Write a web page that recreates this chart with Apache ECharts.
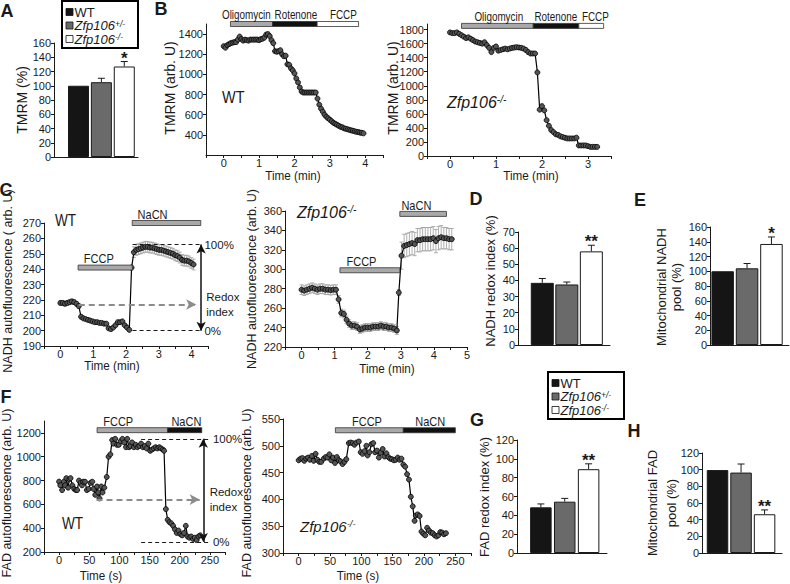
<!DOCTYPE html>
<html>
<head>
<meta charset="utf-8">
<script src="https://cdn.jsdelivr.net/npm/echarts@6/dist/echarts.min.js"></script>
<style>
html, body { margin: 0; padding: 0; background: #fff; }
#view { width: 790px; height: 584px; }
</style>
</head>
<body>
<div id="view"></div>
<script>
// ---------- bar panels (WT, Zfp106+/-, Zfp106-/-) ----------
const groups = ["WT", "Zfp106+/-", "Zfp106-/-"];

const tmrmMean = [100, 105, 127];
const tmrmErr = [0, 5.5, 7];
const tmrmSig = ["", "", "*"];

const nadhRedoxMean = [38.5, 37.5, 58];
const nadhRedoxErr = [2.7, 1.5, 3.8];
const nadhRedoxSig = ["", "", "**"];

const nadhPoolMean = [100, 104, 137];
const nadhPoolErr = [0, 6.5, 9.5];
const nadhPoolSig = ["", "", "*"];

const fadRedoxMean = [48.5, 54.5, 89];
const fadRedoxErr = [3.6, 3.5, 5.7];
const fadRedoxSig = ["", "", "**"];

const fadPoolMean = [99.5, 96.5, 46.5];
const fadPoolErr = [0, 10.3, 5.2];
const fadPoolSig = ["", "", "**"];

// ---------- B: TMRM traces (min, arb. U) ----------
const tmrmWtTime = [0,0.05,0.1,0.15,0.2,0.25,0.3,0.35,0.4,0.45,0.5,0.55,0.6,0.65,0.7,0.75,0.8,0.85,0.9,0.95,
  1,1.05,1.1,1.15,1.2,1.25,1.3,1.35,1.4,1.45,1.5,1.55,1.6,1.65,1.7,1.75,1.8,1.85,1.9,1.95,
  2,2.05,2.1,2.15,2.2,2.25,2.3,2.35,2.4,2.45,2.5,2.55,2.6,2.65,2.7,2.75,2.8,2.85,2.9,2.95,
  3,3.05,3.1,3.15,3.2,3.25,3.3,3.35,3.4,3.45,3.5,3.55,3.6,3.65,3.7,3.75,3.8,3.85,3.9,3.95];
const tmrmWtVal = [1280,1265,1290,1300,1310,1315,1320,1320,1345,1375,1350,1335,1345,1340,1335,1345,1345,1345,1345,1345,
  1340,1350,1355,1365,1395,1400,1380,1340,1310,1230,1225,1230,1240,1200,1180,1185,1100,1095,1060,1040,
  1010,960,920,870,830,820,820,820,820,820,820,820,820,760,700,660,630,600,580,565,
  550,535,520,510,500,490,480,475,465,460,455,450,445,440,435,430,428,422,420,415];

const tmrmKoTime = [0,0.05,0.1,0.15,0.2,0.25,0.3,0.35,0.4,0.45,0.5,0.55,0.6,0.65,0.7,0.75,0.8,0.85,0.9,0.95,
  1,1.05,1.1,1.15,1.2,1.25,1.3,1.35,1.4,1.45,1.5,1.55,1.6,1.65,1.7,1.75,1.8,1.85,1.9,1.95,
  2,2.05,2.1,2.15,2.2,2.25,2.3,2.35,2.4,2.45,2.5,2.55,2.6,2.65,2.7,2.75,2.8,2.85,2.9,2.95,
  3,3.05,3.1,3.15,3.2];
const tmrmKoVal = [1760,1750,1750,1760,1740,1720,1700,1680,1690,1670,1650,1630,1620,1610,1600,1620,1580,1540,1480,1540,
  1560,1500,1510,1520,1530,1520,1530,1540,1545,1550,1545,1540,1530,1510,1480,1460,1460,1460,1190,660,
  710,650,510,430,370,340,310,300,280,270,260,250,250,250,250,260,150,150,150,150,
  140,130,130,130,130];

// ---------- C: NADH traces (min, arb. U) ----------
const nadhWtTime = [0,0.07,0.14,0.21,0.28,0.35,0.42,0.49,0.56,0.63,0.7,0.77,0.84,0.91,0.98,1.05,1.12,1.19,1.26,1.33,
  1.4,1.47,1.54,1.61,1.68,1.75,1.82,1.89,1.96,2.03,2.1,2.17,2.24,2.31,2.38,2.45,2.52,2.59,2.66,2.73,
  2.8,2.87,2.94,3.01,3.08,3.15,3.22,3.29,3.36,3.43,3.5,3.57,3.64,3.71,3.78,3.85,3.92,3.99,4.06];
const nadhWtVal = [218,218,217.5,218,218.5,219,218.5,217.5,216,209,208,207.5,207,206.5,206,205.5,205.5,205,205,204.5,
  204.5,201.5,201,202,203.5,205.5,205.5,206,203.5,202,200.5,241,251,252.5,253,253.5,254,254.5,254.5,254,
  254,253.5,253,252.5,252.5,252,251.5,251,250.5,250,249,248.5,247.5,246,245.5,245.5,245,244,243];
const nadhWtErr = [1.5,1.5,1.5,1.5,1.5,1.5,1.5,1.5,1.5,0.6,0.6,0.6,0.6,0.6,0.6,0.6,0.6,0.6,0.6,0.6,
  0.6,0.6,0.6,0.6,0.6,0.6,0.6,0.6,0.6,0.6,0.6,1.5,3.5,3.5,3.5,3.5,3.5,3.5,3.5,3.5,
  3.5,3.5,3.5,3.5,3.5,3.5,3.5,3.5,3.5,3.5,3.5,3.5,3.5,3.5,3.5,3.5,3.5,3.5,3.5];

const nadhKoTime = [0,0.08,0.16,0.24,0.32,0.4,0.48,0.56,0.64,0.72,0.8,0.88,0.96,1.04,1.12,1.2,1.28,1.36,1.44,1.52,
  1.6,1.68,1.76,1.84,1.92,2,2.08,2.16,2.24,2.32,2.4,2.48,2.56,2.64,2.72,2.8,2.88,
  2.94,3.02,3.1,3.18,3.26,3.34,3.42,3.5,3.58,3.66,3.74,3.82,3.9,3.98,4.06,4.14,4.22,4.3,4.38,4.46,4.54];
const nadhKoVal = [279,278,279,280,281,280,279,280,280,279,279,278.5,279,279,269,255,254,248,244,242,
  242,241,238,239,240,240,240,241,241,241,242,241,241,240,240,239,237,
  276,314,324,325,326,327,326,330,330,331,331,331,331,332,329,332,333,332,332,331,331];
const nadhKoErr = [5,5,5,5,5,5,5,5,5,5,5,5,5,5,4,4,4,4,4,4,
  4,4,4,4,4,4,4,4,4,4,4,4,4,4,4,4,4,
  3,14,12,12,12,12,12,12,12,12,12,12,12,12,12,12,12,11,11,11,11];

// ---------- F: FAD traces (s, arb. U) ----------
const fadWtTime = [0,2,5,8,10,12,15,17,19,22,25,28,30,33,36,38,40,43,46,49,
  52,55,57,60,63,65,67,70,72,75,79,82,85,88,90,93,96,99,102,105,
  108,111,113,116,118,121,124,127,130,133,136,139,142,145,148,151,154,157,160,163,
  166,169,172,174,177,180,183,186,189,192,195,198,201,204,207,210,213,216,219,222,
  225,228,231,234];
const fadWtVal = [791,760,720,790,760,820,740,810,820,760,730,720,720,800,780,760,790,790,720,730,
  780,790,730,680,750,700,650,750,700,740,830,1000,1020,1140,1110,1150,1100,1100,1130,1150,
  1120,1080,1150,1080,1090,1120,1080,1100,1080,1090,1110,1080,1090,1070,1110,1050,1060,1070,1080,1070,
  1080,1070,1060,1050,560,470,450,440,420,390,360,380,350,340,360,420,330,320,330,310,
  320,300,330,340];

const fadKoTime = [0,3,6,9,12,15,18,21,24,27,30,33,36,40,43,46,49,52,55,58,
  61,64,67,70,73,76,80,83,86,89,92,96,99,102,105,108,110,113,116,119,
  122,125,128,131,134,137,140,143,146,149,152,155,158,161,164,167,170,173,176,179,
  182,185,187,190,193,196,199,202,205,208,211,214,217,220,223,226,229,232,235];
const fadKoVal = [473,476,477,472,476,478,474,481,472,485,474,470,470,476,479,478,484,473,478,468,
  479,473,471,466,470,475,505,506,505,502,506,508,488,485,490,500,482,488,503,505,
  488,491,478,487,494,480,486,479,476,475,473,474,478,474,476,465,461,447,437,405,
  387,360,370,372,369,340,336,333,347,342,338,337,333,331,333,339,338,335,337];

// ---------- drug application bars ----------
const bWtDrugs = ["Oligomycin", "Rotenone", "FCCP"];
const bWtStart = [0.19, 1.38, 2.64];
const bWtEnd = [1.38, 2.64, 3.81];
const bWtLabelAt = [0.64, 2.04, 3.38];
const bWtLevel = [1500, 1500, 1500];

const bKoDrugs = ["Oligomycin", "Rotenone", "FCCP"];
const bKoStart = [0.25, 1.81, 2.8];
const bKoEnd = [1.81, 2.8, 3.34];
const bKoLabelAt = [1.06, 2.3, 3.16];
const bKoLevel = [1853, 1853, 1853];

const cWtDrugs = ["FCCP", "NaCN"];
const cWtStart = [0.54, 2.19];
const cWtEnd = [2.19, 4.28];
const cWtLabelAt = [1.17, 2.81];
const cWtLevel = [241, 270];

const cKoDrugs = ["FCCP", "NaCN"];
const cKoStart = [1.16, 2.97];
const cKoEnd = [2.97, 4.38];
const cKoLabelAt = [1.81, 3.47];
const cKoLevel = [299, 357];

const fWtDrugs = ["FCCP", "NaCN"];
const fWtStart = [63, 180];
const fWtEnd = [180, 236.5];
const fWtLabelAt = [98, 211];
const fWtLevel = [1223, 1223];

const fKoDrugs = ["FCCP", "NaCN"];
const fKoStart = [58.6, 167];
const fKoEnd = [167, 250];
const fKoLabelAt = [109, 210];
const fKoLevel = [529, 529];

// ---------- redox index annotations ----------
const cWtRedox = [256, 200, 217];      // 100 %, 0 %, baseline
const cWtRedoxSpan = [2.2, 4.3];
const cWtBaseSpan = [0.56, 4.14];
const cWtArrowAt = 4.29;

const fWtRedox = [1150, 285, 640];
const fWtRedoxSpan = [136, 250];
const fWtBaseSpan = [62, 233];
const fWtArrowAt = 239;

// ---------- styles ----------
const FONT = "'Liberation Sans', Arial, sans-serif";
const INK = "#1a1a1a";
const barColors = ["#151515", "#6a6a6a", "#ffffff"];
const drugFill = { Oligomycin: "#a9a9a9", Rotenone: "#111111" };

// grid boxes, one per plot
const grids = [
  { left: 54, top: 43, width: 84, height: 114 },    // A
  { left: 206, top: 24, width: 177, height: 131 },  // B WT
  { left: 427, top: 24, width: 184, height: 132 },  // B KO
  { left: 44, top: 223, width: 164, height: 123 },  // C WT
  { left: 285, top: 211, width: 182, height: 136 }, // C KO
  { left: 518, top: 232, width: 92, height: 113 },  // D
  { left: 710, top: 227, width: 79, height: 118 },  // E
  { left: 44, top: 421, width: 181, height: 131 },  // F WT
  { left: 283, top: 419, width: 188, height: 134 }, // F KO
  { left: 517, top: 440, width: 90, height: 113 },  // G
  { left: 702, top: 453, width: 80, height: 100 }   // H
];

function axisBase(i) {
  return {
    gridIndex: i,
    splitLine: { show: false },
    axisLine: { show: true, onZero: false, lineStyle: { color: INK, width: 1 } },
    axisTick: { show: true, length: 3, lineStyle: { color: INK } },
    axisLabel: { color: INK, fontSize: 11, fontFamily: FONT, margin: 3 }
  };
}

function barX(i, min, max) {
  const a = axisBase(i);
  return Object.assign(a, { type: "value", min: min, max: max,
    axisTick: { show: false }, axisLabel: { show: false } });
}

function timeX(i, min, max, step, labelStep, hi) {
  const a = axisBase(i);
  a.axisLabel.margin = 2;
  a.axisLabel.formatter = function (v) {
    const r = Math.round(v * 1000) / 1000;
    return (r >= 0 && r <= hi && Math.abs(r / labelStep - Math.round(r / labelStep)) < 1e-6) ? String(r) : "";
  };
  return Object.assign(a, { type: "value", min: min, max: max, interval: step });
}

function valY(i, min, max, step, hideMin, hideMax) {
  const a = axisBase(i);
  a.axisLabel.showMinLabel = !hideMin;
  a.axisLabel.showMaxLabel = !hideMax;
  a.axisLabel.formatter = function (v) { return String(v); };
  return Object.assign(a, { type: "value", min: min, max: max, interval: step });
}

function barPanel(i, means, errs, sigs, width) {
  const bars = {
    type: "bar", xAxisIndex: i, yAxisIndex: i, z: 2, barWidth: width, silent: true,
    data: means.map(function (m, k) {
      return { value: [k, m], itemStyle: { color: barColors[k] } };
    }),
    itemStyle: { borderColor: INK, borderWidth: 1 }
  };
  const whiskers = {
    type: "custom", xAxisIndex: i, yAxisIndex: i, z: 3, silent: true,
    data: means.map(function (m, k) { return [k, m + errs[k]]; }),
    renderItem: function (params, api) {
      const k = params.dataIndex;
      const base = api.coord([k, means[k]]);
      const top = api.coord([k, means[k] + errs[k]]);
      const kids = [];
      if (errs[k] > 0) {
        kids.push({ type: "line", shape: { x1: base[0], y1: base[1], x2: top[0], y2: top[1] },
          style: { stroke: INK, lineWidth: 1 } });
        kids.push({ type: "line", shape: { x1: top[0] - 3.5, y1: top[1], x2: top[0] + 3.5, y2: top[1] },
          style: { stroke: INK, lineWidth: 1 } });
      }
      if (sigs[k]) {
        kids.push({ type: "text", x: top[0], y: top[1] + 5,
          style: { text: sigs[k], fill: INK, font: "bold 17px " + FONT,
            align: "center", verticalAlign: "bottom", textAlign: "center", textVerticalAlign: "bottom" } });
      }
      return { type: "group", children: kids };
    }
  };
  return [bars, whiskers];
}

function trace(i, times, vals, extra) {
  return Object.assign({
    type: "line", xAxisIndex: i, yAxisIndex: i, z: 4, silent: true,
    data: times.map(function (t, k) { return [t, vals[k]]; }),
    symbol: "circle", symbolSize: 5, showSymbol: true, showAllSymbol: true,
    lineStyle: { color: "#000", width: 1.2 },
    itemStyle: { color: "#555555", borderColor: "#000", borderWidth: 0.8 }
  }, extra || {});
}

function errTrace(i, times, vals, errs) {
  return {
    type: "custom", xAxisIndex: i, yAxisIndex: i, z: 1, silent: true,
    data: times.map(function (t, k) { return [t, vals[k], errs[k]]; }),
    renderItem: function (params, api) {
      const t = api.value(0), v = api.value(1), e = api.value(2);
      const lo = api.coord([t, v - e]), hi = api.coord([t, v + e]);
      const st = { stroke: "#9c9c9c", lineWidth: 0.8 };
      return { type: "group", children: [
        { type: "line", shape: { x1: lo[0], y1: lo[1], x2: hi[0], y2: hi[1] }, style: st },
        { type: "line", shape: { x1: hi[0] - 2, y1: hi[1], x2: hi[0] + 2, y2: hi[1] }, style: st },
        { type: "line", shape: { x1: lo[0] - 2, y1: lo[1], x2: lo[0] + 2, y2: lo[1] }, style: st }
      ] };
    }
  };
}

function drugBars(i, names, starts, ends, labelAt, levels, fills, size, squeeze) {
  return {
    type: "custom", xAxisIndex: i, yAxisIndex: i, z: 5, silent: true, clip: false,
    data: names.map(function (n, k) { return [starts[k], ends[k], labelAt[k], levels[k]]; }),
    renderItem: function (params, api) {
      const k = params.dataIndex;
      const a = api.coord([api.value(0), api.value(3)]);
      const b = api.coord([api.value(1), api.value(3)]);
      const m = api.coord([api.value(2), api.value(3)]);
      return { type: "group", children: [
        { type: "rect", shape: { x: a[0], y: a[1] - 2.5, width: b[0] - a[0], height: 5 },
          style: { fill: fills[k], stroke: "#333", lineWidth: 0.8 } },
        { type: "text", x: m[0], y: a[1] - 2.5, scaleX: squeeze,
          style: { text: names[k], fill: INK, font: size + "px " + FONT,
            align: "center", verticalAlign: "bottom", textAlign: "center", textVerticalAlign: "bottom" } }
      ] };
    }
  };
}

function redoxMarks(levels, span, baseSpan, arrowAt) {
  const lab = function (txt, dist) {
    return { show: true, position: "end", formatter: txt, color: INK, fontSize: 11.5,
      fontFamily: FONT, distance: dist, lineHeight: 15 };
  };
  const dash = { type: [4, 3], color: INK, width: 1 };
  return {
    silent: true, animation: false, symbol: ["none", "none"],
    data: [
      [{ coord: [span[0], levels[0]], lineStyle: dash, label: lab("100%", 3) }, { coord: [span[1], levels[0]] }],
      [{ coord: [span[0], levels[1]], lineStyle: dash, label: lab("0%", 3) }, { coord: [span[1], levels[1]] }],
      [{ coord: [baseSpan[0], levels[2]], lineStyle: { type: [6, 4], color: "#8c8c8c", width: 1.8 },
         label: lab("Redox\nindex", 10) },
       { coord: [baseSpan[1], levels[2]], symbol: "arrow", symbolSize: [8, 10] }],
      [{ coord: [arrowAt, levels[0]], symbol: "arrow", symbolSize: [7, 9],
         lineStyle: { type: "solid", color: "#111", width: 1.5 }, label: { show: false } },
       { coord: [arrowAt, levels[1]], symbol: "arrow", symbolSize: [7, 9] }]
    ]
  };
}

// ---------- text helpers ----------
function txt(x, y, text, font, o) {
  o = o || {};
  return { type: "text", x: x, y: y, rotation: o.rot || 0, scaleX: o.sx || 1, silent: true, z: 50,
    style: { text: text, fill: INK, font: font, rich: o.rich, lineHeight: o.lh,
      align: o.align || "center", textAlign: o.align || "center",
      verticalAlign: "middle", textVerticalAlign: "middle" } };
}
const ROT = Math.PI / 2;
function yTitle(x, y, text, size, lh) {
  return txt(x, y, text, size + "px " + FONT, { rot: ROT, lh: lh });
}
function zfp(size, supSize, lh) {
  return {
    i: { fontStyle: "italic", fontSize: size, fontFamily: FONT, fill: INK, lineHeight: lh },
    s: { fontStyle: "italic", fontSize: supSize, fontFamily: FONT, fill: INK, verticalAlign: "top", lineHeight: lh },
    r: { fontSize: size, fontFamily: FONT, fill: INK, lineHeight: lh }
  };
}
function legendBox(x, y) {
  const rows = ["{r|WT}", "{i|Zfp106}{s|+/-}", "{i|Zfp106}{s|-/-}"];
  const els = [{ type: "rect", silent: true, z: 40, shape: { x: x, y: y, width: 76, height: 47 },
    style: { fill: "#fff", stroke: "#000", lineWidth: 2 } }];
  groups.forEach(function (g, k) {
    const cy = y + 11 + k * 13.5;
    els.push({ type: "rect", silent: true, z: 41, shape: { x: x + 4, y: cy - 3.5, width: 7, height: 7 },
      style: { fill: barColors[k], stroke: "#111", lineWidth: 0.8 } });
    els.push(txt(x + 12.5, cy, rows[k], "13px " + FONT, { align: "left", lh: 13, rich: zfp(13, 8.5, 13) }));
  });
  return els;
}

const letterFont = "bold 18px " + FONT;
const tFont = "13px " + FONT;
const graphicEls = [
  txt(7, 11, "A", letterFont), txt(161, 9, "B", letterFont), txt(6, 190, "C", letterFont),
  txt(476, 199, "D", letterFont), txt(640, 200, "E", letterFont), txt(6, 397, "F", letterFont),
  txt(477, 420, "G", letterFont), txt(634, 431, "H", letterFont),

  yTitle(22, 100, "TMRM (%)", 14),
  yTitle(170, 88, "TMRM (arb. U)", 14),
  yTitle(393, 88, "TMRM (arb. U)", 14),
  yTitle(8, 281, "NADH autofluorescence ( arb. U)", 12.5),
  yTitle(252, 279, "NADH autofluorescence (arb. U)", 12.5),
  yTitle(490, 281, "NADH redox index (%)", 13),
  yTitle(669, 287, "Mitochondrial NADH\npool (%)", 13, 15),
  yTitle(7, 493, "FAD autofluorescence (arb. U)", 12.5),
  yTitle(247, 493, "FAD autofluorescence (arb. U)", 12.5),
  yTitle(484, 497, "FAD redox index (%)", 13),
  yTitle(662, 503, "Mitochondrial FAD\npool (%)", 13, 19),

  txt(293, 176, "Time (min)", tFont, { sx: 0.9 }),
  txt(531, 176, "Time (min)", tFont, { sx: 0.9 }),
  txt(112, 366, "Time (min)", tFont, { sx: 0.9 }),
  txt(387, 369, "Time (min)", tFont, { sx: 0.9 }),
  txt(101, 576, "Time (s)", tFont, { sx: 0.9 }),
  txt(358, 576, "Time (s)", tFont, { sx: 0.9 }),

  txt(222, 97, "WT", "17px " + FONT, { align: "left", sx: 0.85 }),
  txt(447, 102, "{i|Zfp106}{s|-/-}", "16px " + FONT, { align: "left", rich: zfp(16, 10) }),
  txt(55, 221, "WT", "16px " + FONT, { align: "left", sx: 0.85 }),
  txt(297, 212, "{i|Zfp106}{s|-/-}", "16px " + FONT, { align: "left", rich: zfp(16, 10) }),
  txt(62, 524, "WT", "16px " + FONT, { align: "left", sx: 0.85 }),
  txt(300, 526, "{i|Zfp106}{s|-/-}", "15px " + FONT, { align: "left", rich: zfp(15, 9.5) })
].concat(legendBox(62, 1), legendBox(548, 372));

const series = [].concat(
  barPanel(0, tmrmMean, tmrmErr, tmrmSig, 21),
  barPanel(5, nadhRedoxMean, nadhRedoxErr, nadhRedoxSig, 23),
  barPanel(6, nadhPoolMean, nadhPoolErr, nadhPoolSig, 22.5),
  barPanel(9, fadRedoxMean, fadRedoxErr, fadRedoxSig, 21.5),
  barPanel(10, fadPoolMean, fadPoolErr, fadPoolSig, 21.5),
  [
    trace(1, tmrmWtTime, tmrmWtVal),
    trace(2, tmrmKoTime, tmrmKoVal),
    errTrace(3, nadhWtTime, nadhWtVal, nadhWtErr),
    trace(3, nadhWtTime, nadhWtVal, { markLine: redoxMarks(cWtRedox, cWtRedoxSpan, cWtBaseSpan, cWtArrowAt) }),
    errTrace(4, nadhKoTime, nadhKoVal, nadhKoErr),
    trace(4, nadhKoTime, nadhKoVal),
    trace(7, fadWtTime, fadWtVal, { markLine: redoxMarks(fWtRedox, fWtRedoxSpan, fWtBaseSpan, fWtArrowAt) }),
    trace(8, fadKoTime, fadKoVal),
    drugBars(1, bWtDrugs, bWtStart, bWtEnd, bWtLabelAt, bWtLevel,
      [drugFill.Oligomycin, drugFill.Rotenone, "#ffffff"], 12.5, 0.79),
    drugBars(2, bKoDrugs, bKoStart, bKoEnd, bKoLabelAt, bKoLevel,
      [drugFill.Oligomycin, drugFill.Rotenone, "#ffffff"], 12.5, 0.79),
    drugBars(3, cWtDrugs, cWtStart, cWtEnd, cWtLabelAt, cWtLevel, ["#a9a9a9", "#a9a9a9"], 12.5, 0.88),
    drugBars(4, cKoDrugs, cKoStart, cKoEnd, cKoLabelAt, cKoLevel, ["#a9a9a9", "#a9a9a9"], 12.5, 0.88),
    drugBars(7, fWtDrugs, fWtStart, fWtEnd, fWtLabelAt, fWtLevel, ["#a9a9a9", "#111111"], 12.5, 0.88),
    drugBars(8, fKoDrugs, fKoStart, fKoEnd, fKoLabelAt, fKoLevel, ["#a9a9a9", "#111111"], 12.5, 0.88)
  ]
);

const option = {
  animation: false,
  backgroundColor: "#ffffff",
  textStyle: { fontFamily: FONT },
  grid: grids,
  xAxis: [
    barX(0, -1.07, 2.6),
    timeX(1, -0.5, 4.5, 0.5, 1, 4),
    timeX(2, -0.5, 3.5, 0.5, 1, 3),
    timeX(3, -0.5, 4.5, 0.5, 1, 4),
    timeX(4, -0.5, 5, 0.5, 1, 5),
    barX(5, -0.99, 2.76),
    barX(6, -0.52, 2.72),
    timeX(7, -25, 275, 25, 50, 250),
    timeX(8, -25, 275, 25, 50, 250),
    barX(9, -1.0, 2.77),
    barX(10, -0.66, 2.74)
  ],
  yAxis: [
    valY(0, 0, 160, 20),
    valY(1, 200, 1500, 200, true, true),
    valY(2, 0, 1880, 200, false, true),
    valY(3, 190, 270, 10),
    valY(4, 220, 360, 20),
    valY(5, 0, 70, 10),
    valY(6, 0, 160, 20),
    valY(7, 200, 1300, 200, false, true),
    valY(8, 300, 550, 50),
    valY(9, 0, 120, 20),
    valY(10, 0, 120, 20)
  ],
  series: series,
  graphic: { elements: graphicEls }
};

const chart = echarts.init(document.getElementById("view"), null, { renderer: "svg" });
chart.setOption(option);
</script>
</body>
</html>
